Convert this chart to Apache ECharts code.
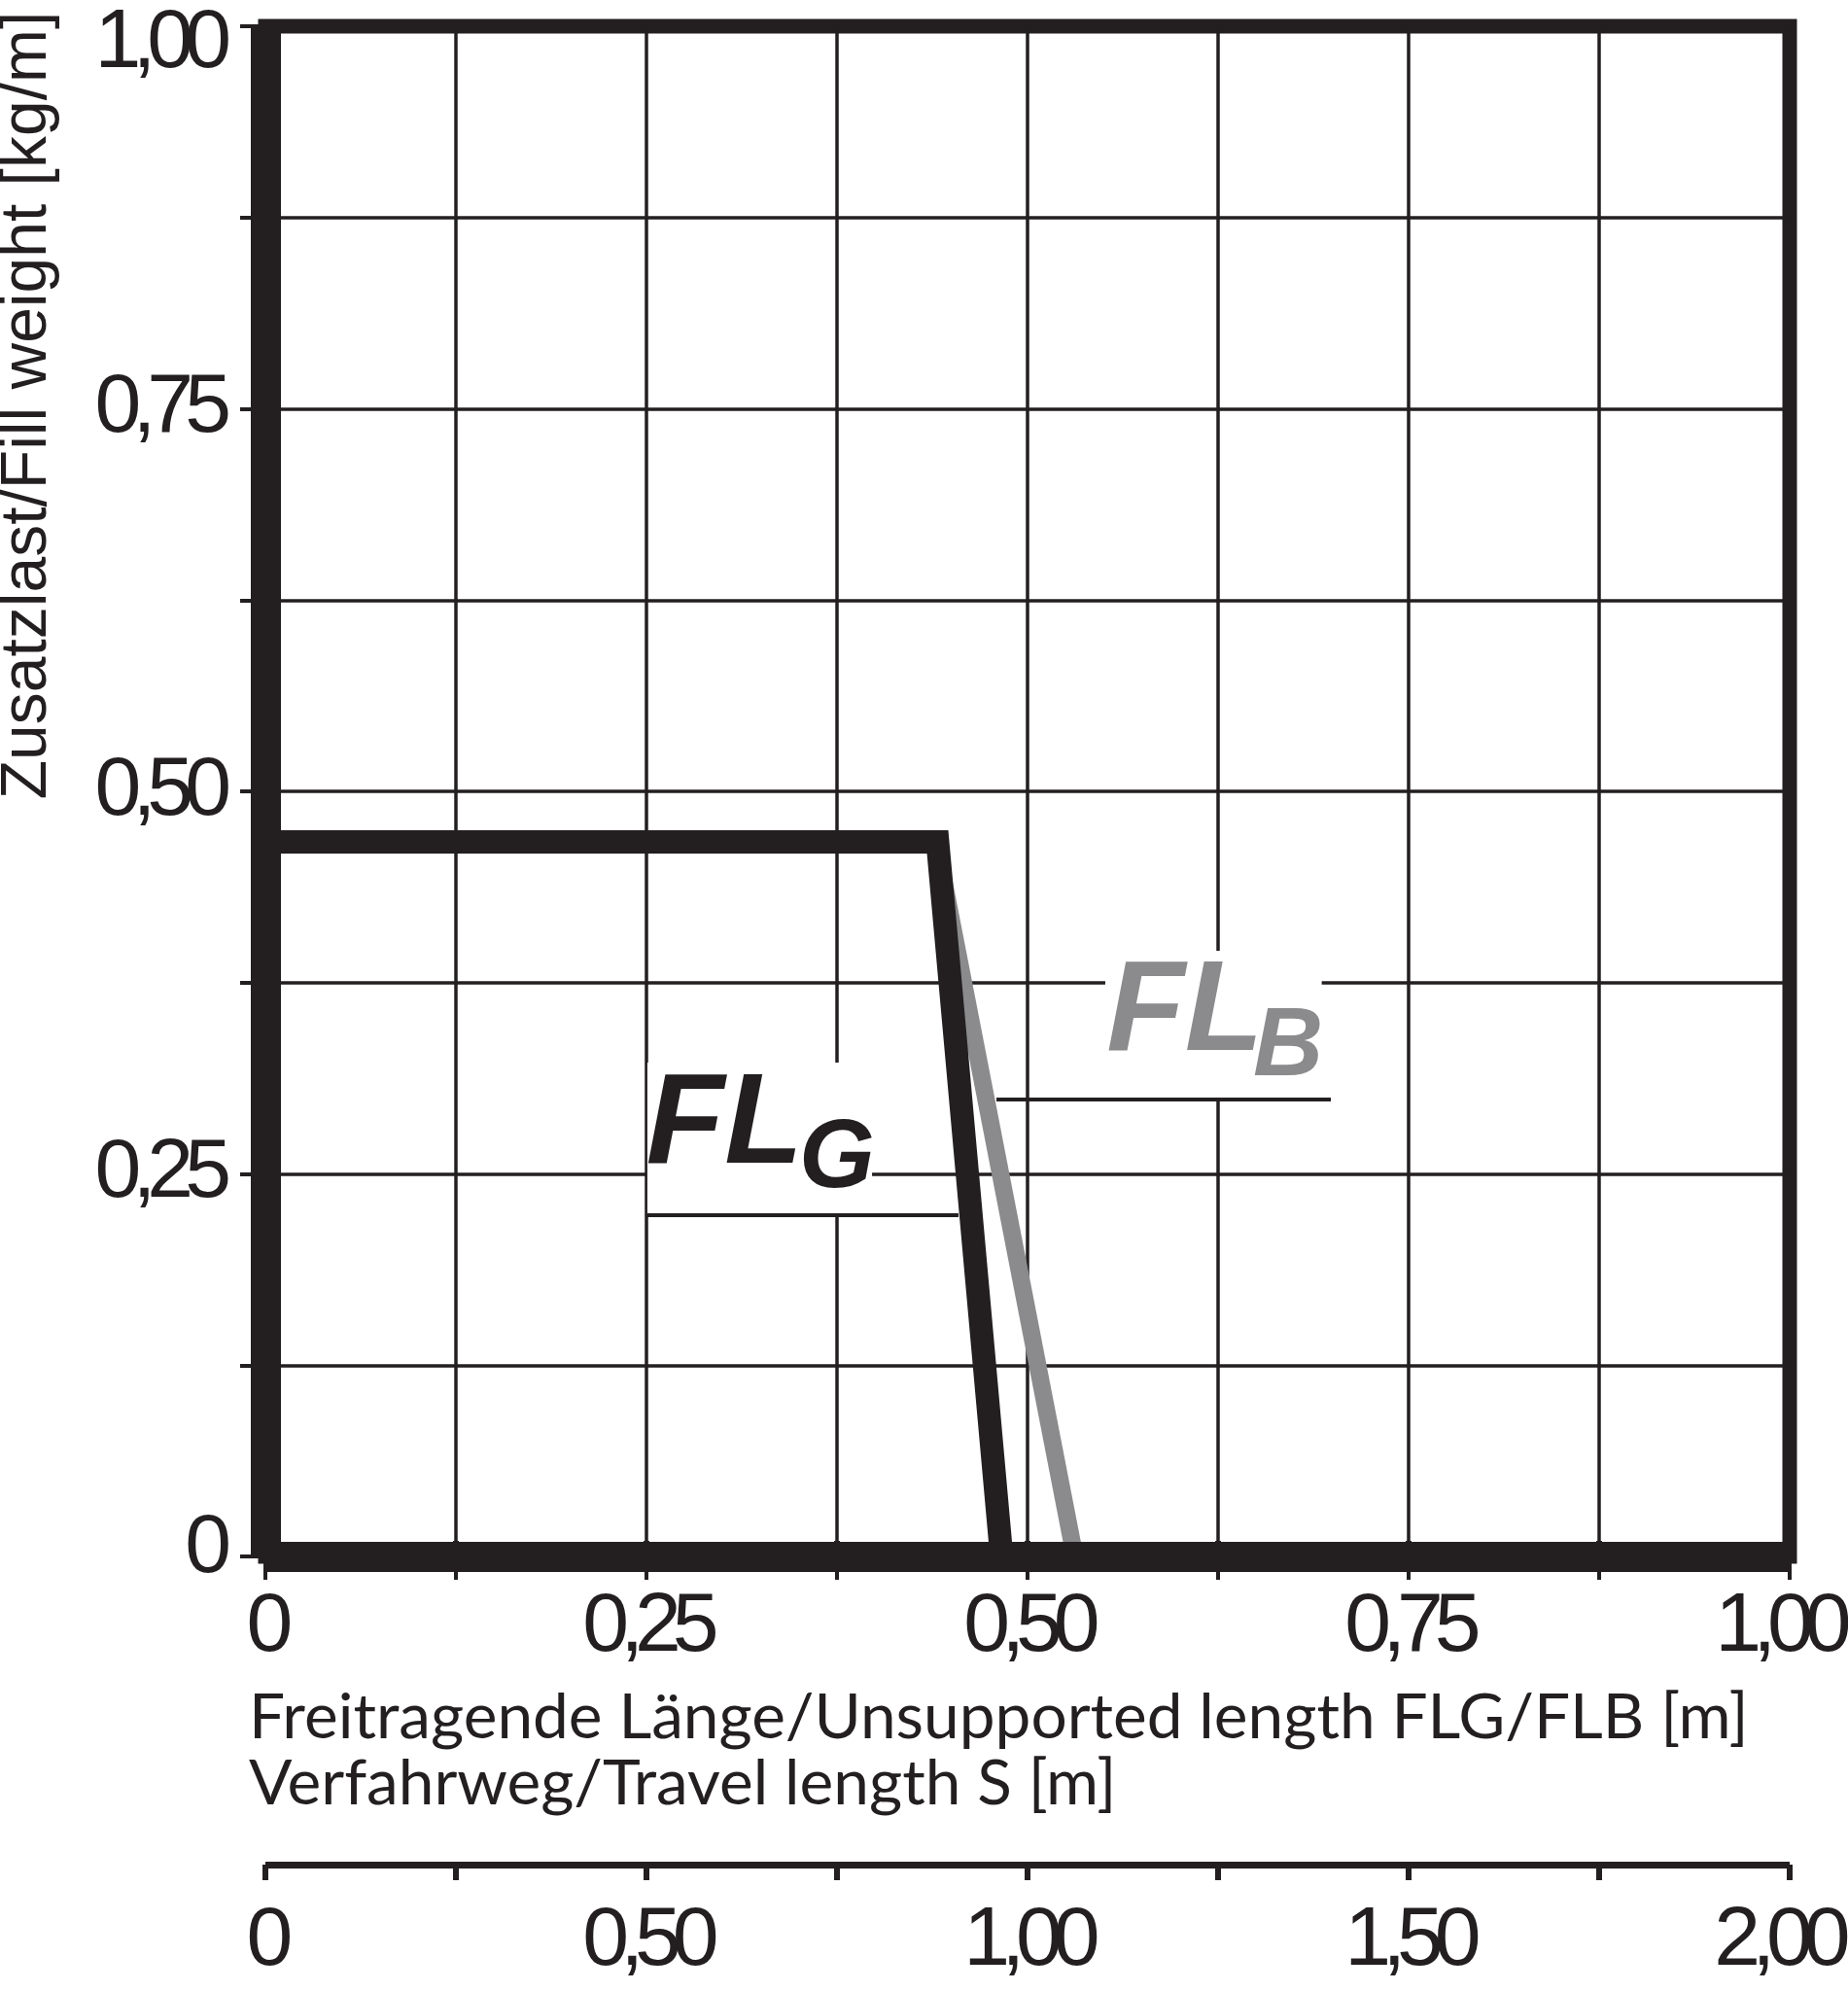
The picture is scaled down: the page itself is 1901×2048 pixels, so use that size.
<!DOCTYPE html>
<html>
<head>
<meta charset="utf-8">
<script src="https://cdn.jsdelivr.net/npm/echarts@6/dist/echarts.min.js"></script>
<style>
html,body{margin:0;padding:0;background:#ffffff;}
#chart{width:1901px;height:2048px;}
</style>
</head>
<body>
<div id="chart"></div>
<script>
// ---- data ----
const flgLength = [0, 0.441, 0.483];      // FLG curve, unsupported length [m]
const flgWeight = [0.467, 0.467, 0];      // FLG curve, fill weight [kg/m]
const flbLength = [0.440, 0.531];         // FLB curve, unsupported length [m]
const flbWeight = [0.467, 0];             // FLB curve, fill weight [kg/m]
const weightLabels = ['0', '0,25', '0,50', '0,75', '1,00'];
const lengthLabels = ['0', '0,25', '0,50', '0,75', '1,00'];
const travelLabels = ['0', '0,50', '1,00', '1,50', '2,00'];
const yTitle = 'Zusatzlast/Fill weight [kg/m]';
const xTitle1 = 'Freitragende Länge/Unsupported length FLG/FLB [m]';
const xTitle2 = 'Verfahrweg/Travel length S [m]';

// ---- styling ----
const INK = '#231f20';
const GREY = '#8b8b8d';
const NUM_FONT = "'Liberation Sans',Arial,sans-serif";
const NUM_SIZE = 86;

// tight tracking for the tick numbers (the reference uses condensed spacing)
(function () {
  const proto = CanvasRenderingContext2D.prototype;
  const orig = proto.fillText;
  proto.fillText = function (t, x, y, w) {
    if ('letterSpacing' in this) {
      this.letterSpacing = (this.font.indexOf(NUM_SIZE + 'px') >= 0) ? '-9px' : '0px';
    }
    return w === undefined ? orig.call(this, t, x, y) : orig.call(this, t, x, y, w);
  };
})();

function pick(labels, step) {
  return function (v) {
    const k = v / step;
    if (Math.abs(k - Math.round(k)) > 1e-6) return '';
    return labels[Math.round(k)] || '';
  };
}
function withEnd(fmt, maxV) {
  return function (v) {
    const s = fmt(v);
    if (s && Math.abs(v - maxV) < 1e-9) return '{end|' + s + '}';
    return s;
  };
}
const yFmtBase = pick(weightLabels, 0.25);
function yFmt(v) {
  const s = yFmtBase(v);
  if (!s) return '';
  if (Math.abs(v - 1) < 1e-9) return '{top|' + s + '}';
  if (Math.abs(v) < 1e-9) return '{bot|' + s + '}';
  return s;
}

const numLabel = { fontSize: NUM_SIZE, lineHeight: NUM_SIZE, fontFamily: NUM_FONT, color: INK };
const numRich = (pad) => ({ fontSize: NUM_SIZE, lineHeight: NUM_SIZE, fontFamily: NUM_FONT, color: INK, padding: pad });
const thick = { color: INK, width: 31, cap: 'butt' };

const chart = echarts.init(document.getElementById('chart'), null, { renderer: 'canvas', width: 1901, height: 2048 });

const option = {
  animation: false,
  backgroundColor: '#ffffff',
  grid: {
    left: 273, right: 60, top: 27, height: 1574,
    outerBoundsMode: 'none', containLabel: false,
    show: true, borderColor: INK, borderWidth: 15, backgroundColor: 'transparent'
  },
  xAxis: [
    {
      type: 'value', min: 0, max: 1, interval: 0.125, position: 'bottom',
      axisLine: { show: true, onZero: false, lineStyle: thick },
      axisTick: { show: true, length: 24, lineStyle: { color: INK, width: 4, cap: 'butt' } },
      axisLabel: Object.assign({ formatter: withEnd(pick(lengthLabels, 0.25), 1), margin: 30, showMinLabel: true, showMaxLabel: true, hideOverlap: false,
        rich: { end: numRich([0, 22, 0, 0]) } }, numLabel),
      splitLine: { show: true, lineStyle: { color: INK, width: 3.5, cap: 'butt' } }
    },
    {
      type: 'value', min: 0, max: 1, position: 'bottom', z: 10,
      axisLine: { show: true, onZero: false, lineStyle: thick },
      axisTick: { show: false }, axisLabel: { show: false }, splitLine: { show: false }
    },
    {
      type: 'value', min: 0, max: 2, interval: 0.25, position: 'bottom', offset: 317,
      axisLine: { show: true, onZero: false, lineStyle: { color: INK, width: 7, cap: 'butt' } },
      axisTick: { show: true, length: 16, lineStyle: { color: INK, width: 6, cap: 'butt' } },
      axisLabel: Object.assign({ formatter: withEnd(pick(travelLabels, 0.5), 2), margin: 36, showMinLabel: true, showMaxLabel: true, hideOverlap: false,
        rich: { end: numRich([0, 24, 0, 0]) } }, numLabel),
      splitLine: { show: false }
    },
    {
      type: 'value', min: 0, max: 2, interval: 0.25, position: 'bottom', offset: 317,
      axisLine: { show: false },
      axisTick: { show: true, inside: true, length: 16, lineStyle: { color: INK, width: 6, cap: 'butt' } },
      axisLabel: { show: false }, splitLine: { show: false }
    }
  ],
  yAxis: [
    {
      type: 'value', min: 0, max: 1, interval: 0.125, position: 'left',
      axisLine: { show: true, onZero: false, lineStyle: thick },
      axisTick: { show: true, length: 26, lineStyle: { color: INK, width: 4, cap: 'butt' } },
      axisLabel: Object.assign({
        formatter: yFmt, margin: 44, showMinLabel: true, showMaxLabel: true, hideOverlap: false,
        rich: { top: numRich([36, 0, 0, 0]), bot: numRich([0, 0, 16, 0]) }
      }, numLabel),
      splitLine: { show: true, lineStyle: { color: INK, width: 3.5, cap: 'butt' } }
    }
  ],
  series: [
    {
      name: 'FLB', type: 'line', xAxisIndex: 0, yAxisIndex: 0,
      data: flbLength.map((x, i) => [x, flbWeight[i]]),
      symbol: 'none', clip: false, z: 2,
      lineStyle: { color: GREY, width: 18, cap: 'butt', join: 'miter' },
      markArea: {
        silent: true, z: 1,
        itemStyle: { color: '#ffffff', borderWidth: 0 },
        label: { show: false },
        data: [
          [{ coord: [0.2506, 0.3227] }, { coord: [0.398, 0.223] }],
          [{ coord: [0.551, 0.3958] }, { coord: [0.693, 0.2986] }]
        ]
      }
    },
    {
      name: 'FLG', type: 'line', xAxisIndex: 0, yAxisIndex: 0,
      data: flgLength.map((x, i) => [x, flgWeight[i]]),
      symbol: 'none', clip: false, z: 3,
      lineStyle: { color: INK, width: 24, cap: 'butt', join: 'miter' },
      markLine: {
        silent: true, symbol: ['none', 'none'],
        label: { show: false },
        lineStyle: { color: INK, width: 4, type: 'solid', cap: 'butt' },
        data: [
          [{ coord: [0.2506, 0.223] }, { coord: [0.4547, 0.223] }],
          [{ coord: [0.4796, 0.2986] }, { coord: [0.699, 0.2986] }]
        ]
      }
    }
  ]
};
chart.setOption(option);

// ---- annotation texts positioned through the axes ----
const annot = [
  { main: 'FL', sub: 'G', color: INK, mainAt: [0.2497, 0.2805], subAt: [0.3502, 0.2587] },
  { main: 'FL', sub: 'B', color: GREY, mainAt: [0.5518, 0.3541], subAt: [0.6479, 0.3319] }
];
const toPx = (pt) => chart.convertToPixel({ xAxisIndex: 0, yAxisIndex: 0 }, pt);
const LABEL_FONT = "'Liberation Sans',Arial,sans-serif";
const graphics = [];
annot.forEach(a => {
  const m = toPx(a.mainAt), s = toPx(a.subAt);
  graphics.push({ type: 'text', x: m[0], y: m[1], z: 20, style: { text: a.main, fill: a.color, fontSize: 132, fontWeight: 'bold', fontStyle: 'italic', fontFamily: LABEL_FONT, align: 'left', verticalAlign: 'middle' } });
  graphics.push({ type: 'text', x: s[0], y: s[1], z: 20, style: { text: a.sub, fill: a.color, fontSize: 100, fontWeight: 'bold', fontStyle: 'italic', fontFamily: LABEL_FONT, align: 'left', verticalAlign: 'middle' } });
});
graphics.push({ type: 'text', x: 29, y: 417, rotation: Math.PI / 2, z: 20,
  style: { text: yTitle, fill: INK, fontSize: 66, fontFamily: "'Liberation Sans',Arial,sans-serif", align: 'center', verticalAlign: 'middle' } });
graphics.push({ type: 'text', x: 256, y: 1767, z: 20, scaleX: 1.027,
  style: { text: xTitle1, fill: INK, fontSize: 64, fontFamily: "Lato,'Open Sans',sans-serif", align: 'left', verticalAlign: 'middle' } });
graphics.push({ type: 'text', x: 256, y: 1835, z: 20, scaleX: 1.027,
  style: { text: xTitle2, fill: INK, fontSize: 64, fontFamily: "Lato,'Open Sans',sans-serif", align: 'left', verticalAlign: 'middle' } });
chart.setOption({ graphic: graphics });
</script>
</body>
</html>
